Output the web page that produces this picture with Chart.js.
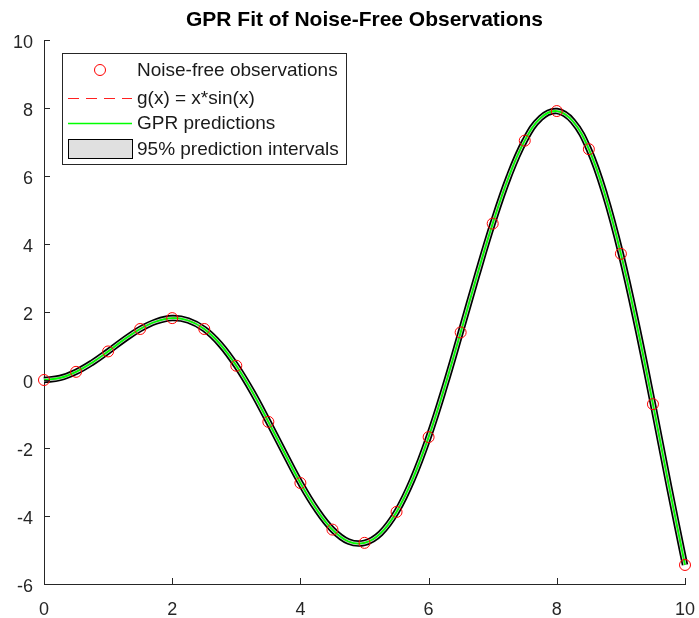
<!DOCTYPE html>
<html>
<head>
<meta charset="utf-8">
<script src="https://cdn.jsdelivr.net/npm/chart.js@4"></script>
<style>
  html, body { margin: 0; padding: 0; background: #fff; }
  #wrap { width: 699px; height: 618px; }
</style>
</head>
<body>
<div id="wrap"><canvas id="gprChart" width="699" height="618"></canvas></div>
<script>
// observations (x = 0:0.5:10)
const obsX = [0, 0.5, 1, 1.5, 2, 2.5, 3, 3.5, 4, 4.5, 5, 5.5, 6, 6.5, 7, 7.5, 8, 8.5, 9, 9.5, 10];
const obsY = [0, 0.24, 0.84, 1.50, 1.82, 1.50, 0.42, -1.23, -3.03, -4.40, -4.79, -3.88, -1.68, 1.40, 4.60, 7.04, 7.91, 6.79, 3.71, -0.71, -5.44];

// fitted curve, read along the black/green band
const curveX = [0, 0.25, 0.5, 0.75, 1, 1.25, 1.5, 1.75, 2, 2.25, 2.5, 2.75, 3, 3.25, 3.5, 3.75, 4, 4.25, 4.5, 4.75, 5,
                5.25, 5.5, 5.75, 6, 6.25, 6.5, 6.75, 7, 7.25, 7.5, 7.75, 8, 8.25, 8.5, 8.75, 9, 9.25, 9.5, 9.75, 10];
const curveY = [0, 0.06, 0.24, 0.51, 0.84, 1.19, 1.50, 1.72, 1.82, 1.75, 1.50, 1.05, 0.42, -0.35, -1.23, -2.14, -3.03, -3.80, -4.40, -4.75, -4.79,
                -4.51, -3.88, -2.92, -1.68, -0.21, 1.40, 3.04, 4.60, 5.97, 7.04, 7.71, 7.91, 7.61, 6.79, 5.46, 3.71, 1.61, -0.71, -3.12, -5.44];

const xTicks = [0, 2, 4, 6, 8, 10];
const yTicks = [-6, -4, -2, 0, 2, 4, 6, 8, 10];

const titleText = 'GPR Fit of Noise-Free Observations';
const legendItems = ['Noise-free observations', 'g(x) = x*sin(x)', 'GPR predictions', '95% prediction intervals'];

const axisColor = '#262626';
const font = 'Liberation Sans, Arial, sans-serif';

function pts(xs, ys) {
    return xs.map((x, i) => ({ x: x, y: ys[i] }));
}

// title over the axes, inward tick marks and the boxed legend inside the axes
const matlabAxes = {
    id: 'matlabAxes',
    afterDraw(chart) {
        const ctx = chart.ctx;
        const xs = chart.scales.x, ys = chart.scales.y;
        const area = chart.chartArea;
        ctx.save();

        ctx.fillStyle = '#000';
        ctx.font = 'bold 21px ' + font;
        ctx.textAlign = 'center';
        ctx.textBaseline = 'middle';
        ctx.fillText(titleText, (area.left + area.right) / 2, 20);

        ctx.strokeStyle = axisColor;
        ctx.lineWidth = 1;
        ctx.beginPath();
        xTicks.forEach(v => {
            const px = Math.round(xs.getPixelForValue(v)) + 0.5;
            ctx.moveTo(px, area.bottom);
            ctx.lineTo(px, area.bottom - 6);
        });
        yTicks.forEach(v => {
            const py = Math.round(ys.getPixelForValue(v)) + 0.5;
            ctx.moveTo(area.left, py);
            ctx.lineTo(area.left + 6, py);
        });
        ctx.stroke();

        // legend
        const bx = 62.5, by = 53.5, bw = 284, bh = 111;
        ctx.fillStyle = '#fff';
        ctx.fillRect(bx, by, bw, bh);
        ctx.strokeStyle = '#262626';
        ctx.strokeRect(bx, by, bw, bh);

        const rows = [70, 98, 123, 149];
        const sx0 = 68, sx1 = 132, tx = 137;
        ctx.font = '19px ' + font;
        ctx.textAlign = 'left';
        ctx.textBaseline = 'middle';
        ctx.fillStyle = '#1a1a1a';
        legendItems.forEach((t, i) => ctx.fillText(t, tx, rows[i] + 1));

        // circle
        ctx.strokeStyle = '#ff0000';
        ctx.beginPath();
        ctx.arc(100, rows[0], 5.5, 0, Math.PI * 2);
        ctx.stroke();
        // dashed
        ctx.strokeStyle = '#ff2020';
        ctx.setLineDash([11, 7]);
        ctx.beginPath();
        ctx.moveTo(sx0, rows[1] + 0.5);
        ctx.lineTo(sx1, rows[1] + 0.5);
        ctx.stroke();
        ctx.setLineDash([]);
        // green
        ctx.strokeStyle = '#00ff00';
        ctx.lineWidth = 1.3;
        ctx.beginPath();
        ctx.moveTo(sx0, rows[2] + 0.5);
        ctx.lineTo(sx1, rows[2] + 0.5);
        ctx.stroke();
        ctx.lineWidth = 1;
        // patch
        ctx.fillStyle = '#e0e0e0';
        ctx.fillRect(sx0 + 0.5, rows[3] - 9.5, sx1 - sx0, 19);
        ctx.strokeStyle = '#000';
        ctx.strokeRect(sx0 + 0.5, rows[3] - 9.5, sx1 - sx0, 19);
        ctx.restore();
    }
};

window.onload = function () {
    const ctx = document.getElementById('gprChart').getContext('2d');
    new Chart(ctx, {
        type: 'line',
        data: {
            datasets: [
                {
                    label: legendItems[0],
                    data: pts(obsX, obsY),
                    showLine: false,
                    pointStyle: 'circle',
                    pointRadius: 5.5,
                    pointBorderColor: '#ff0000',
                    pointBackgroundColor: 'rgba(0,0,0,0)',
                    pointBorderWidth: 1,
                    clip: false
                },
                {
                    label: legendItems[2],
                    data: pts(curveX, curveY),
                    borderColor: '#00ff00',
                    borderWidth: 1.8,
                    pointRadius: 0,
                    tension: 0.4,
                    clip: false
                },
                {
                    label: legendItems[1],
                    data: pts(curveX, curveY),
                    borderColor: '#ff0000',
                    borderDash: [10, 6],
                    borderWidth: 1,
                    pointRadius: 0,
                    tension: 0.4,
                    clip: false
                },
                {
                    label: legendItems[3] + ' fill',
                    data: pts(curveX, curveY),
                    borderColor: '#d0d0d0',
                    borderWidth: 3.2,
                    pointRadius: 0,
                    tension: 0.4,
                    clip: false
                },
                {
                    label: legendItems[3],
                    data: pts(curveX, curveY),
                    borderColor: '#000000',
                    borderWidth: 6.5,
                    pointRadius: 0,
                    tension: 0.4,
                    clip: false
                }
            ]
        },
        options: {
            responsive: false,
            animation: false,
            events: [],
            layout: { padding: { left: 0, right: 14, top: 40, bottom: 0 } },
            plugins: {
                legend: { display: false },
                tooltip: { enabled: false },
                title: { display: false }
            },
            scales: {
                x: {
                    type: 'linear',
                    min: 0, max: 10,
                    afterBuildTicks: s => { s.ticks = xTicks.map(v => ({ value: v })); },
                    afterFit: s => { s.height = 34; s.paddingLeft = 0; s.paddingRight = 0; },
                    grid: { display: false, drawTicks: false },
                    border: { display: true, color: axisColor, width: 1 },
                    ticks: { color: axisColor, padding: 15, maxRotation: 0, font: { family: font, size: 18 } }
                },
                y: {
                    type: 'linear',
                    min: -6, max: 10,
                    afterBuildTicks: s => { s.ticks = yTicks.map(v => ({ value: v })); },
                    afterFit: s => { s.width = 44; s.paddingTop = 0; s.paddingBottom = 0; },
                    grid: { display: false, drawTicks: false },
                    border: { display: true, color: axisColor, width: 1 },
                    ticks: { color: axisColor, padding: 11, labelOffset: 3, font: { family: font, size: 18 } }
                }
            }
        },
        plugins: [matlabAxes]
    });
};
</script>
</body>
</html>
